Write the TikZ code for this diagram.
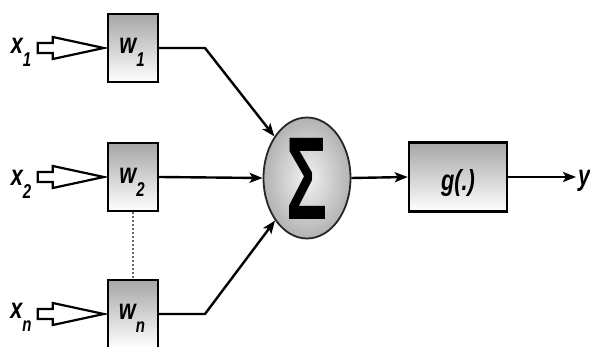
\documentclass[tikz,border=0pt]{standalone}
\usepackage{fontspec}
\setmainfont{Liberation Sans}
\usetikzlibrary{shapes.geometric,arrows.meta,calc}
\tikzset{
  wbox/.style={draw=black, line width=2.4pt, top color=gray!70, bottom color=white, minimum width=50pt, minimum height=68pt, inner sep=0pt},
  sumnode/.style={ellipse, draw=black!85, line width=1.8pt, inner color=gray!10, outer color=gray!60, minimum width=87pt, minimum height=121pt, inner sep=0pt},
  conn/.style={line width=2.4pt, -{Stealth[length=13pt,width=10pt,inset=3pt]}},
  hollow/.style={draw=black, line width=2.2pt, fill=white, line join=miter},
  lbl/.style={font=\fontsize{29}{29}\selectfont\bfseries\itshape, inner sep=0pt, xscale=0.75}
}
\newcommand{\subl}[2]{#1\raisebox{-0.45em}{\fontsize{20}{20}\selectfont #2}}
\begin{document}
\begin{tikzpicture}[x=1pt,y=-1pt]
\useasboundingbox (0,0) rectangle (590,347);
\node[wbox] (w1) at (133,48) {};
\node[wbox] (w2) at (133,177) {};
\node[wbox] (wn) at (133,314) {};
\node[lbl] (t1) at (132,52) {\subl{w}{1}};
\node[lbl] (t2) at (132,182) {\subl{w}{2}};
\node[lbl] (tn) at (132,318) {\subl{w}{n}};
\node[sumnode] (sum) at (307,178) {};
\node[inner sep=0pt, font=\fontsize{118}{118}\selectfont\bfseries, xscale=0.58] (sig) at (307,179) {Σ};
\node[wbox, minimum width=98pt, minimum height=69pt] (g) at (458,177) {};
\node[lbl] (gt) at (458,183) {g(.)};
\node[lbl] (x1) at (21,52) {\subl{x}{1}};
\node[lbl] (x2) at (21,184) {\subl{x}{2}};
\node[lbl] (xn) at (21,317) {\subl{x}{n}};
\node[lbl, anchor=west] (y) at (578,181) {y};
\coordinate (yend) at (576,177);
\coordinate (b1) at (205,48);
\coordinate (bn) at (205,314);
\foreach \w in {w1,w2,wn}{
  \draw[hollow] ($(\w.west)+(-69,-5)$) -- ($(\w.west)+(-54,-5)$) -- ($(\w.west)+(-54,-11)$) -- ($(\w.west)+(-3,0)$) -- ($(\w.west)+(-54,11)$) -- ($(\w.west)+(-54,5)$) -- ($(\w.west)+(-69,5)$) -- cycle;
}
\draw[conn] (w1.east) -- (b1) -- (sum);
\draw[conn] (w2.east) -- (sum.west);
\draw[conn] (wn.east) -- (bn) -- (sum);
\draw[conn] (sum.east) -- (g.west);
\draw[conn] (g.east) -- (yend);
\draw[line width=1.6pt, dash pattern=on 2pt off 2pt, gray!80!black] (w2.south) -- (wn.north);
\end{tikzpicture}
\end{document}
